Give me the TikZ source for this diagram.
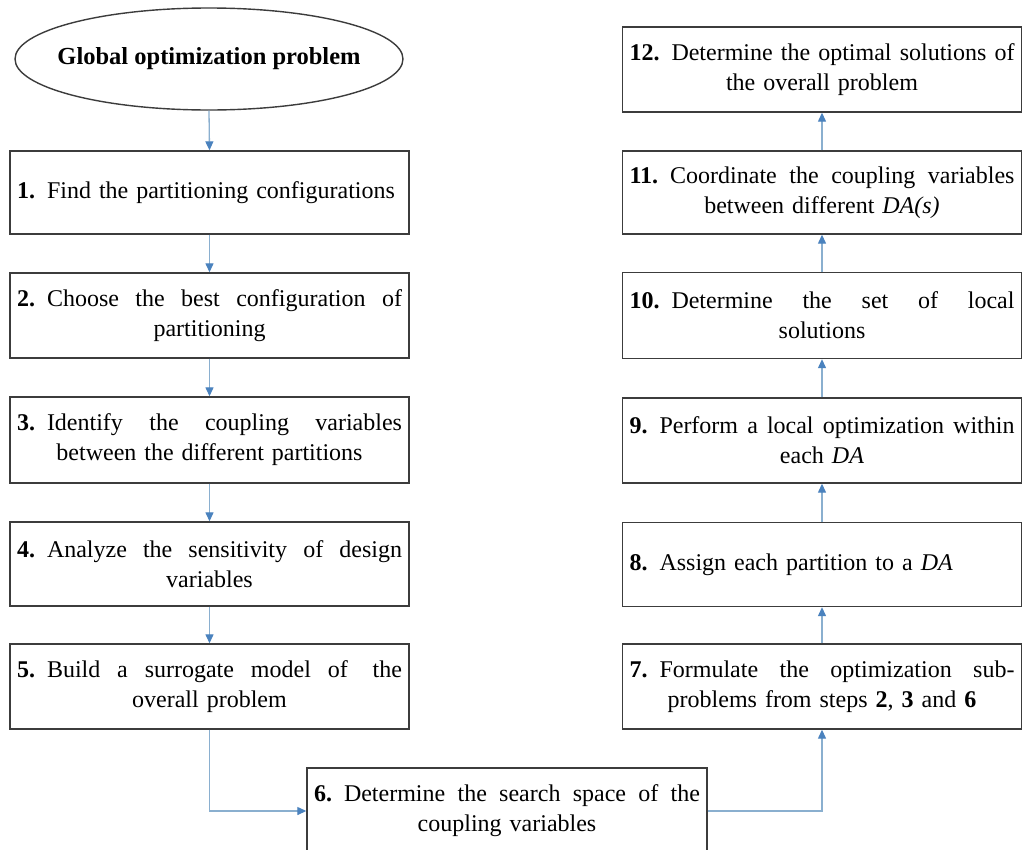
\documentclass[tikz,border=0pt]{standalone}
\usepackage{fontspec}
\setmainfont{Liberation Serif}
\usetikzlibrary{arrows.meta,shapes.geometric}
\definecolor{lineblue}{HTML}{8AAFCF}
\definecolor{tipblue}{HTML}{4A82BE}
\definecolor{boxgray}{HTML}{3C3C3C}
\newcommand\jline[1]{\leavevmode\hbox to \hsize{\spaceskip=0.25em plus 1fil minus 0.08em\relax #1}}
\begin{document}
\begin{tikzpicture}[x=1pt,y=-1pt,
  font=\fontsize{24}{30}\selectfont,
  stepbox/.style={draw=boxgray, line width=1.4pt, rectangle, inner xsep=7pt, inner ysep=0pt,
    text width=385pt, minimum width=399pt, align=center},
  leftbox/.style={stepbox, align=left},
  conn/.style={draw=lineblue, line width=1.3pt,
    -{Triangle[length=9pt,width=8pt,color=tipblue,fill=tipblue]}}
]
\useasboundingbox (0,0) rectangle (1023,849);
\clip (0,0) rectangle (1023,849);
\fill[white] (0,0) rectangle (1023,849);

% ellipse
\node[ellipse, draw=boxgray, line width=1.4pt, minimum width=388pt, minimum height=102pt, inner sep=0pt]
  (g) at (209,59) {\makebox[0pt]{\fontsize{24.5}{30}\selectfont\textbf{Global optimization problem}}};

% left column
\node[leftbox, minimum height=83pt] (b1) at (209.5,192.5)
  {\textbf{1.} Find the partitioning configurations};
\node[stepbox, minimum height=85pt] (b2) at (209.5,315.5)
  {\jline{\textbf{2.} Choose the best configuration of}\\ partitioning};
\node[stepbox, minimum height=86pt] (b3) at (209.5,440)
  {\jline{\textbf{3.} Identify the coupling variables}\\ between the different partitions};
\node[stepbox, minimum height=84pt] (b4) at (209.5,564)
  {\jline{\textbf{4.} Analyze the sensitivity of design}\\ variables};
\node[stepbox, minimum height=85pt] (b5) at (209.5,686.5)
  {\jline{\textbf{5.} Build a surrogate model of\hspace{8pt} the}\\ overall problem};

% bottom
\node[stepbox, minimum height=86pt, text width=386pt, minimum width=400pt] (b6) at (507,811)
  {\jline{\textbf{6.} Determine the search space of the}\\ coupling variables};

% right column
\node[stepbox, minimum height=85pt] (b7) at (822,686.5)
  {\jline{\textbf{7.} Formulate the optimization sub-}\\ problems from steps \textbf{2}, \textbf{3} and \textbf{6}};
\node[leftbox, minimum height=84pt] (b8) at (822,564.5)
  {\textbf{8.} Assign each partition to a \textit{DA}};
\node[stepbox, minimum height=85pt] (b9) at (822,440.5)
  {\jline{\textbf{9.} Perform a local optimization within}\\ each \textit{DA}};
\node[stepbox, minimum height=86pt] (b10) at (822,315.5)
  {\jline{\textbf{10.} Determine the set of local}\\ solutions};
\node[stepbox, minimum height=83pt] (b11) at (822,192.5)
  {\jline{\textbf{11.} Coordinate the coupling variables}\\ between different \textit{DA(s)}};
\node[stepbox, minimum height=85pt] (b12) at (822,69.5)
  {\jline{\textbf{12.} Determine the optimal solutions of}\\ the overall problem};

% connectors
\draw[conn] (g.south) -- (b1.north);
\draw[conn] (b1.south) -- (b2.north);
\draw[conn] (b2.south) -- (b3.north);
\draw[conn] (b3.south) -- (b4.north);
\draw[conn] (b4.south) -- (b5.north);
\draw[conn] (b5.south) |- (b6.west);
\draw[conn] (b6.east) -| (b7.south);
\draw[conn] (b7.north) -- (b8.south);
\draw[conn] (b8.north) -- (b9.south);
\draw[conn] (b9.north) -- (b10.south);
\draw[conn] (b10.north) -- (b11.south);
\draw[conn] (b11.north) -- (b12.south);
\end{tikzpicture}
\end{document}
